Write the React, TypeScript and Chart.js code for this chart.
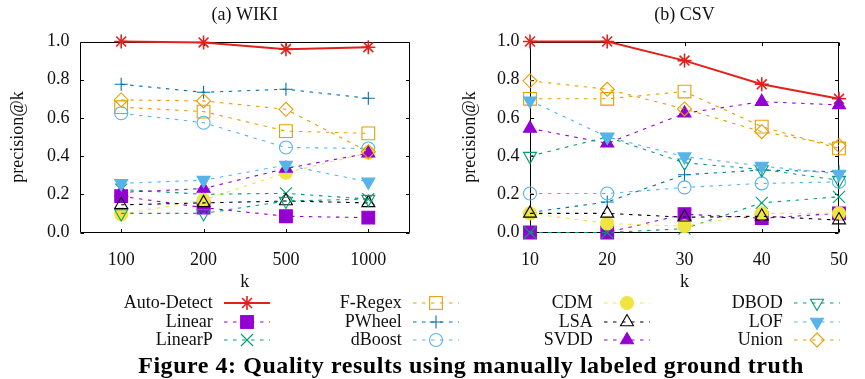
import React, { useEffect, useRef } from 'react';
import { Chart, registerables } from 'chart.js';
Chart.register(...registerables);

// ---------- data ----------
const seriesNames = ['Auto-Detect', 'Linear', 'LinearP', 'F-Regex', 'PWheel', 'dBoost', 'CDM', 'LSA', 'SVDD', 'DBOD', 'LOF', 'Union'];

const wikiK = ['100', '200', '500', '1000'];
const csvK = ['10', '20', '30', '40', '50'];
const yTickValues = [0, 0.2, 0.4, 0.6, 0.8, 1.0];

const wikiAutoDetect = [1.0, 0.995, 0.96, 0.97];
const wikiLinear = [0.19, 0.13, 0.085, 0.078];
const wikiLinearP = [0.225, 0.2, 0.205, 0.175];
const wikiFRegex = [0.656, 0.633, 0.531, 0.519];
const wikiPWheel = [0.776, 0.734, 0.75, 0.703];
const wikiDBoost = [0.624, 0.575, 0.445, 0.44];
const wikiCDM = [0.095, 0.17, 0.313, 0.417];
const wikiLSA = [0.145, 0.155, 0.165, 0.155];
const wikiSVDD = [0.21, 0.23, 0.335, 0.415];
const wikiDBOD = [0.1, 0.1, 0.165, 0.175];
const wikiLOF = [0.257, 0.274, 0.353, 0.265];
const wikiUnion = [0.694, 0.689, 0.645, 0.423];

const csvAutoDetect = [1.0, 1.0, 0.9, 0.776, 0.7];
const csvLinear = [0, 0, 0.096, 0.075, 0.1];
const csvLinearP = [0, 0, 0.02, 0.155, 0.187];
const csvFRegex = [0.7, 0.7, 0.738, 0.554, 0.44];
const csvPWheel = [0.105, 0.16, 0.302, 0.327, 0.318];
const csvDBoost = [0.204, 0.204, 0.236, 0.257, 0.265];
const csvCDM = [0.1, 0.047, 0.033, 0.1, 0.1];
const csvLSA = [0.1, 0.1, 0.08, 0.085, 0.065];
const csvSVDD = [0.545, 0.467, 0.624, 0.685, 0.668];
const csvDBOD = [0.4, 0.5, 0.365, 0.33, 0.274];
const csvLOF = [0.69, 0.5, 0.397, 0.348, 0.306];
const csvUnion = [0.794, 0.75, 0.647, 0.528, 0.455];

const wikiValues = [wikiAutoDetect, wikiLinear, wikiLinearP, wikiFRegex, wikiPWheel, wikiDBoost, wikiCDM, wikiLSA, wikiSVDD, wikiDBOD, wikiLOF, wikiUnion];
const csvValues = [csvAutoDetect, csvLinear, csvLinearP, csvFRegex, csvPWheel, csvDBoost, csvCDM, csvLSA, csvSVDD, csvDBOD, csvLOF, csvUnion];

// ---------- styles ----------
type Sty = { color: string; shape: string; rot: number; r: number; filled: boolean; solid: boolean };
const styles: Sty[] = [
  { color: '#e3211c', shape: 'star', rot: 0, r: 7, filled: false, solid: true },
  { color: '#9400d3', shape: 'rect', rot: 0, r: 9, filled: true, solid: false },
  { color: '#009e73', shape: 'crossRot', rot: 0, r: 8.5, filled: false, solid: false },
  { color: '#e69f00', shape: 'rect', rot: 0, r: 9, filled: false, solid: false },
  { color: '#0072b2', shape: 'cross', rot: 0, r: 6.5, filled: false, solid: false },
  { color: '#56b4e9', shape: 'circle', rot: 0, r: 6.5, filled: false, solid: false },
  { color: '#f0e442', shape: 'circle', rot: 0, r: 6.5, filled: true, solid: false },
  { color: '#000000', shape: 'triangle', rot: 0, r: 7.5, filled: false, solid: false },
  { color: '#9400d3', shape: 'triangle', rot: 0, r: 7.5, filled: true, solid: false },
  { color: '#009e73', shape: 'triangle', rot: 180, r: 7.5, filled: false, solid: false },
  { color: '#56b4e9', shape: 'triangle', rot: 180, r: 7.5, filled: true, solid: false },
  { color: '#e69f00', shape: 'rectRot', rot: 0, r: 7, filled: false, solid: false },
];

const FONT = "'Liberation Serif', 'Times New Roman', serif";
const TXT = '#111';
const CANVAS_H = 297;

function makeDatasets(values: number[][]) {
  return seriesNames.map((name, i) => {
    const s = styles[i];
    return {
      label: name,
      data: values[i],
      borderColor: s.color,
      backgroundColor: s.color,
      borderWidth: s.solid ? 2 : 1.1,
      borderDash: s.solid ? [] : [3.5, 5.5],
      pointStyle: s.shape,
      rotation: s.rot,
      pointRotation: s.rot,
      pointRadius: s.r,
      pointHoverRadius: s.r,
      pointBorderWidth: s.solid ? 1.6 : 1.1,
      pointBorderColor: s.color,
      pointBackgroundColor: s.filled ? s.color : 'rgba(0,0,0,0)',
      tension: 0,
      clip: false,
      order: seriesNames.length - i,
    };
  });
}

const frameTicks = {
  id: 'frameTicks',
  beforeDatasetsDraw(chart: any) {
    const { ctx, chartArea } = chart;
    const l = Math.round(chartArea.left) + 0.5;
    const r = Math.round(chartArea.right) - 0.5;
    const t = Math.round(chartArea.top) + 0.5;
    const b = Math.round(chartArea.bottom) - 0.5;
    const TL = 3.5;
    ctx.save();
    ctx.strokeStyle = '#000';
    ctx.lineWidth = 1;
    ctx.setLineDash([]);
    ctx.beginPath();
    ctx.rect(l, t, r - l, b - t);
    const ys = chart.scales.y;
    ys.ticks.forEach((_: any, i: number) => {
      const py = Math.round(ys.getPixelForTick(i)) + 0.5;
      ctx.moveTo(l, py); ctx.lineTo(l + TL, py);
      ctx.moveTo(r, py); ctx.lineTo(r - TL, py);
    });
    const xs = chart.scales.x;
    xs.ticks.forEach((_: any, i: number) => {
      const px = Math.round(xs.getPixelForTick(i)) + 0.5;
      ctx.moveTo(px, b); ctx.lineTo(px, b - TL);
      ctx.moveTo(px, t); ctx.lineTo(px, t + TL);
    });
    ctx.stroke();
    ctx.restore();
  },
};

function buildConfig(title: string, labels: string[], values: number[][], yAxisWidth: number, yTitlePad: number, rightPad: number, offset: boolean): any {
  return {
    type: 'line',
    data: { labels, datasets: makeDatasets(values) },
    plugins: [frameTicks],
    options: {
      responsive: false,
      animation: false,
      devicePixelRatio: 1,
      events: [],
      layout: { autoPadding: false, padding: { left: 0, right: rightPad, top: 0, bottom: 0 } },
      plugins: {
        legend: { display: false },
        tooltip: { enabled: false },
        title: {
          display: true,
          text: title,
          fullSize: false,
          color: TXT,
          font: { family: FONT, size: 18, weight: 'normal' },
          padding: { top: 4, bottom: 15.9 },
        },
      },
      scales: {
        x: {
          type: 'category',
          offset,
          grid: { display: false, drawTicks: false },
          border: { display: false },
          ticks: { color: TXT, font: { family: FONT, size: 18 }, padding: 17, maxRotation: 0, autoSkip: false },
          title: { display: true, text: 'k', color: TXT, font: { family: FONT, size: 18 }, padding: { top: 0, bottom: 3.5 } },
          afterFit: (s: any) => { s.height = CANVAS_H - 232.5; },
        },
        y: {
          min: 0,
          max: 1,
          afterBuildTicks: (s: any) => { s.ticks = yTickValues.map((v) => ({ value: v })); },
          grid: { display: false, drawTicks: false },
          border: { display: false },
          ticks: { color: TXT, font: { family: FONT, size: 18 }, padding: 10.5, callback: (v: any) => Number(v).toFixed(1) },
          title: { display: true, text: 'precision@k', color: TXT, font: { family: FONT, size: 18 }, padding: { top: yTitlePad, bottom: 0 } },
          afterFit: (s: any) => { s.width = yAxisWidth; },
        },
      },
    },
  };
}

function ChartCanvas({ left, width, cfg }: { left: number; width: number; cfg: () => any }) {
  const ref = useRef<HTMLCanvasElement>(null);
  useEffect(() => {
    const c = new Chart(ref.current as HTMLCanvasElement, cfg());
    return () => c.destroy();
  }, []);
  return <canvas ref={ref} width={width} height={CANVAS_H} style={{ position: 'absolute', left, top: 0, width, height: CANVAS_H }} />;
}

function markerEls(s: Sty, cx: number, cy: number) {
  const r = s.r;
  const stroke = s.color;
  const fill = s.filled ? s.color : 'none';
  const sw = s.solid ? 1.6 : 1.1;
  const rad = (s.rot * Math.PI) / 180;
  switch (s.shape) {
    case 'star': {
      const d = r * Math.SQRT1_2;
      return <path d={`M${cx - r},${cy}L${cx + r},${cy}M${cx},${cy - r}L${cx},${cy + r}M${cx - d},${cy - d}L${cx + d},${cy + d}M${cx - d},${cy + d}L${cx + d},${cy - d}`} stroke={stroke} strokeWidth={sw} fill="none" />;
    }
    case 'rect': {
      const h = r * Math.SQRT1_2;
      return <rect x={cx - h} y={cy - h} width={2 * h} height={2 * h} stroke={stroke} strokeWidth={sw} fill={fill} />;
    }
    case 'crossRot': {
      const d = r * Math.SQRT1_2;
      return <path d={`M${cx - d},${cy - d}L${cx + d},${cy + d}M${cx - d},${cy + d}L${cx + d},${cy - d}`} stroke={stroke} strokeWidth={sw} fill="none" />;
    }
    case 'cross':
      return <path d={`M${cx - r},${cy}L${cx + r},${cy}M${cx},${cy - r}L${cx},${cy + r}`} stroke={stroke} strokeWidth={sw} fill="none" />;
    case 'circle':
      return <circle cx={cx} cy={cy} r={r} stroke={stroke} strokeWidth={sw} fill={fill} />;
    case 'triangle': {
      const pts = [0, 1, 2].map((k) => {
        const a = rad + (k * 2 * Math.PI) / 3;
        return `${cx + Math.sin(a) * r},${cy - Math.cos(a) * r}`;
      });
      return <polygon points={pts.join(' ')} stroke={stroke} strokeWidth={sw} fill={fill} />;
    }
    case 'rectRot':
      return <polygon points={`${cx},${cy - r} ${cx + r},${cy} ${cx},${cy + r} ${cx - r},${cy}`} stroke={stroke} strokeWidth={sw} fill={fill} />;
  }
  return null;
}

const legendColRight = [212.7, 401.7, 592.7, 782.7];
const legendRowY = [303.3, 321.7, 340];

function Legend() {
  return (
    <>
      {seriesNames.map((name, i) => {
        const col = Math.floor(i / 3);
        const row = i % 3;
        const xr = legendColRight[col];
        const cy = legendRowY[row];
        const s = styles[i];
        const x0 = xr + 11.5;
        const w = 46;
        return (
          <React.Fragment key={name}>
            <div style={{ position: 'absolute', left: xr - 200, width: 200, top: cy - 11, height: 22, lineHeight: '22px', textAlign: 'right', font: `18px ${FONT}`, color: TXT, whiteSpace: 'nowrap' }}>{name}</div>
            <svg style={{ position: 'absolute', left: x0, top: cy - 10 }} width={w} height={20}>
              <line x1={0} y1={10} x2={w} y2={10} stroke={s.color} strokeWidth={s.solid ? 2 : 1.1} strokeDasharray={s.solid ? undefined : '3.5 5.5'} />
              {markerEls(s, 23, 10)}
            </svg>
          </React.Fragment>
        );
      })}
    </>
  );
}

export default function App() {
  return (
    <div style={{ position: 'fixed', left: 0, top: 0, width: 865, height: 379, background: '#fff', overflow: 'hidden' }}>
      <ChartCanvas left={0} width={440} cfg={() => buildConfig('(a) WIKI', wikiK, wikiValues, 80, 7.5, 30.5, true)} />
      <ChartCanvas left={440} width={425} cfg={() => buildConfig('(b) CSV', csvK, csvValues, 90, 19.2, 5.5, false)} />
      <Legend />
      <div style={{ position: 'absolute', left: 471, top: 366.7 - 15, height: 30, lineHeight: '30px', transform: 'translateX(-50%)', font: `bold 24px ${FONT}`, letterSpacing: '0.55px', color: '#000', whiteSpace: 'nowrap' }}>
        Figure 4: Quality results using manually labeled ground truth
      </div>
    </div>
  );
}
